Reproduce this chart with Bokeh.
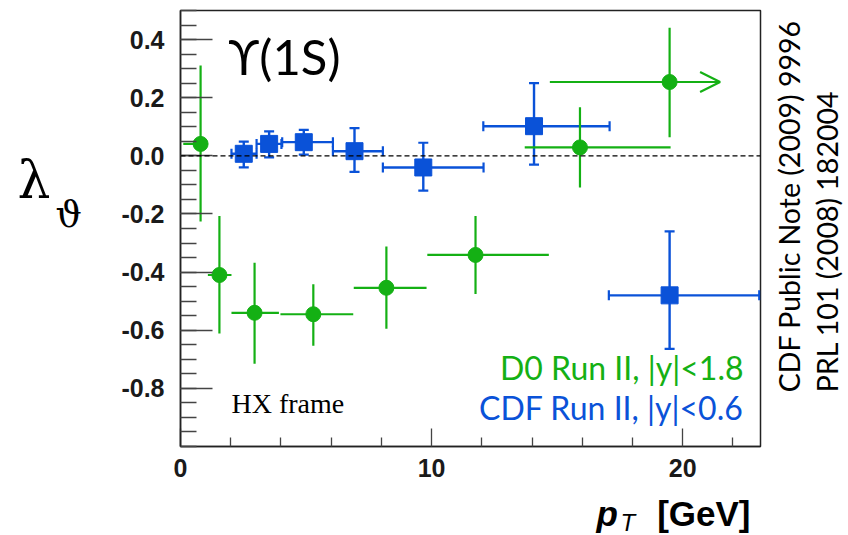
import numpy as np
from bokeh.plotting import figure
from bokeh.layouts import row, column
from bokeh.models import (ColumnDataSource, Whisker, TeeHead, Span, Label, Arrow, OpenHead,
                          FixedTicker, PrintfTickFormatter, Range1d)
from bokeh.embed import file_html
from bokeh.resources import INLINE

# ---------------- data ----------------
# D0 Run II, |y|<1.8
d0_pt     = [0.80, 1.55, 2.95, 5.29, 8.20, 11.75, 15.91, 19.48]
d0_pt_lo  = [0.11, 1.09, 2.03, 3.98, 6.90, 9.83, 13.71, 14.71]
d0_pt_hi  = [1.06, 2.03, 3.92, 6.88, 9.80, 14.67, 19.52, 21.49]
d0_lam    = [0.041, -0.410, -0.540, -0.545, -0.454, -0.341, 0.029, 0.254]
d0_lam_lo = [-0.226, -0.611, -0.715, -0.653, -0.595, -0.475, -0.109, 0.064]
d0_lam_hi = [0.311, -0.207, -0.368, -0.442, -0.312, -0.207, 0.167, 0.441]
d0_open   = [False, False, False, False, False, False, False, True]  # last bin open upward in pT

# CDF Run II, |y|<0.6
cdf_pt     = [2.52, 3.53, 4.91, 6.93, 9.67, 14.08, 19.48]
cdf_pt_lo  = [2.03, 3.03, 4.05, 6.07, 8.06, 12.06, 17.06]
cdf_pt_hi  = [3.03, 4.02, 6.07, 8.06, 12.07, 17.09, 23.05]
cdf_lam    = [0.007, 0.041, 0.047, 0.016, -0.040, 0.102, -0.480]
cdf_lam_lo = [-0.040, -0.005, 0.004, -0.055, -0.120, -0.030, -0.664]
cdf_lam_hi = [0.049, 0.084, 0.089, 0.095, 0.045, 0.250, -0.260]

x_major = [0, 10, 20]
x_minor = [2, 4, 6, 8, 12, 14, 16, 18, 22]
y_major = [-0.8, -0.6, -0.4, -0.2, 0.0, 0.2, 0.4]
y_minor = [round(-1.0 + 0.05 * i, 2) for i in range(31)]

GREEN = "#14b014"
BLUE = "#0a52d8"

X0, X1 = 0.0, 23.1
Y0, Y1 = -1.0, 0.5
# page layout (pixels)
PW, PH = 848, 535
LEFT_W = 100          # left strip (y title)
RIGHT_W = 80          # right strip (references)
BOTTOM_H = 45         # bottom strip (x title)
L, R, T, B = 180, 760, 10, 446   # frame edges on the page

def dx(px):
    return X0 + (px - L) * (X1 - X0) / (R - L)

def dy(py):
    return Y1 - (py - T) * (Y1 - Y0) / (B - T)

main_w = PW - LEFT_W - RIGHT_W
main_h = PH - BOTTOM_H
p = figure(width=main_w, height=main_h, x_range=Range1d(X0, X1), y_range=Range1d(Y0, Y1),
           output_backend="svg", toolbar_location=None,
           min_border_left=L - LEFT_W, min_border_right=PW - RIGHT_W - R,
           min_border_top=T, min_border_bottom=main_h - B)
p.title.visible = False
p.background_fill_color = "white"
p.border_fill_color = "white"
p.outline_line_color = "#222222"
p.outline_line_width = 1.5
p.xgrid.visible = False
p.ygrid.visible = False

for ax in (p.xaxis[0], p.yaxis[0]):
    ax.axis_line_color = "#222222"
    ax.axis_line_width = 1.5
    ax.major_tick_line_color = "#444444"
    ax.minor_tick_line_color = "#444444"
    ax.major_tick_line_width = 1.3
    ax.minor_tick_line_width = 1.3
    ax.major_tick_out = 0
    ax.minor_tick_out = 0
    ax.major_label_text_font = "Liberation Sans"
    ax.major_label_text_font_style = "bold"
    ax.major_label_text_font_size = "25px"
    ax.major_label_text_color = "#1a1a1a"

p.xaxis.ticker = FixedTicker(ticks=x_major, minor_ticks=x_minor)
p.yaxis.ticker = FixedTicker(ticks=y_major, minor_ticks=y_minor)
p.yaxis.formatter = PrintfTickFormatter(format="%.1f")
p.xaxis.major_tick_in = 18
p.xaxis.minor_tick_in = 9
p.yaxis.major_tick_in = 32
p.yaxis.minor_tick_in = 16
p.xaxis.major_label_standoff = 12
p.yaxis.major_label_standoff = 16

p.add_layout(Span(location=0, dimension="width", line_color="black",
                  line_dash="5 3", line_width=1.2))

# ---- D0 (green) ----
n_closed = [i for i in range(len(d0_pt)) if not d0_open[i]]
n_open = [i for i in range(len(d0_pt)) if d0_open[i]]
src_d0 = ColumnDataSource(dict(x=d0_pt, y=d0_lam, xlo=d0_pt_lo, xhi=d0_pt_hi,
                               ylo=d0_lam_lo, yhi=d0_lam_hi))
p.segment(x0="x", y0="ylo", x1="x", y1="yhi", source=src_d0, line_color=GREEN, line_width=2.2)
src_d0c = ColumnDataSource(dict(y=[d0_lam[i] for i in n_closed],
                                xlo=[d0_pt_lo[i] for i in n_closed],
                                xhi=[d0_pt_hi[i] for i in n_closed]))
p.segment(x0="xlo", y0="y", x1="xhi", y1="y", source=src_d0c, line_color=GREEN, line_width=2.2)
for i in n_open:
    p.add_layout(Arrow(x_start=d0_pt_lo[i], y_start=d0_lam[i], x_end=d0_pt_hi[i], y_end=d0_lam[i],
                       line_color=GREEN, line_width=2.2,
                       end=OpenHead(size=20, line_color=GREEN, line_width=2.2)))
p.scatter(x="x", y="y", source=src_d0, marker="circle", size=15,
          fill_color=GREEN, line_color=GREEN)

# ---- CDF (blue) ----
src_cdf = ColumnDataSource(dict(x=cdf_pt, y=cdf_lam, xlo=cdf_pt_lo, xhi=cdf_pt_hi,
                                ylo=cdf_lam_lo, yhi=cdf_lam_hi))
def tee():
    return TeeHead(size=10, line_color=BLUE, line_width=2.2)
p.add_layout(Whisker(source=src_cdf, base="x", lower="ylo", upper="yhi", dimension="height",
                     line_color=BLUE, line_width=2.4, upper_head=tee(), lower_head=tee()))
p.add_layout(Whisker(source=src_cdf, base="y", lower="xlo", upper="xhi", dimension="width",
                     line_color=BLUE, line_width=2.4, upper_head=tee(), lower_head=tee()))
p.scatter(x="x", y="y", source=src_cdf, marker="square", size=17,
          fill_color=BLUE, line_color=BLUE)

# ---- texts inside the frame ----
def lab(fig, text, x, y, size, color="black", font="Lato", style="normal",
        align="left", angle=0.0):
    fig.add_layout(Label(x=x, y=y, text=text, text_font=font, text_font_size=size,
                         text_font_style=style, text_color=color, text_align=align,
                         text_baseline="middle", angle=angle))

lab(p, "\u03d2(1S)", dx(228), dy(55), "49px")
lab(p, "HX frame", dx(231), dy(403), "28px", font="Liberation Serif")
lab(p, "D0 Run II, |y|<1.8", dx(743), dy(367), "32px", color=GREEN, align="right")
lab(p, "CDF Run II, |y|<0.6", dx(743), dy(407), "32px", color=BLUE, align="right")

# ---- strips around the plot holding the titles (page-pixel coordinates) ----
def strip(w, h, x0, y0):
    f = figure(width=w, height=h, x_range=Range1d(x0, x0 + w), y_range=Range1d(y0 + h, y0),
               output_backend="svg", toolbar_location=None, x_axis_type=None, y_axis_type=None,
               min_border=0)
    f.title.visible = False
    f.outline_line_color = None
    f.background_fill_color = "white"
    f.border_fill_color = "white"
    return f

left = strip(LEFT_W, main_h, 0, 0)
lab(left, "\u03bb", 17, 190, "52px", font="DejaVu Serif")
lab(left, "\u03d1", 55, 229, "37px", font="DejaVu Serif")

right = strip(RIGHT_W, main_h, PW - RIGHT_W, 0)
lab(right, "CDF Public Note (2009) 9996", 788.5, 429, "28.5px", angle=np.pi / 2)
lab(right, "PRL 101 (2008) 182004", 826, 429, "28.5px", angle=np.pi / 2)

bottom = strip(PW, BOTTOM_H, 0, main_h)
lab(bottom, "p", 596, 513, "35px", font="Liberation Sans", style="bold italic")
lab(bottom, "T", 620, 522, "24px", font="Liberation Sans", style="italic")
lab(bottom, "[GeV]", 750, 513, "35px", font="Liberation Sans", style="bold", align="right")

layout = column(row(left, p, right, spacing=0), bottom, spacing=0)

open("out.html", "w").write(file_html(layout, INLINE))
